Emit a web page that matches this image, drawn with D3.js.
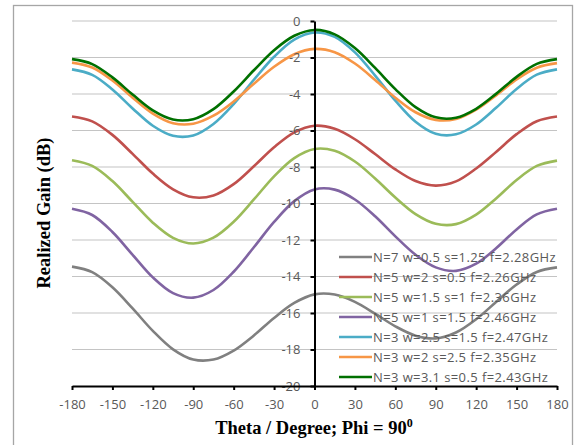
<!DOCTYPE html>
<html>
<head>
<meta charset="utf-8">
<script src="https://cdn.jsdelivr.net/npm/d3@7"></script>
<style>
  html, body { margin: 0; padding: 0; background: #fff; }
  svg { display: block; }
</style>
</head>
<body>
<svg id="chart" width="584" height="445"></svg>
<script>
// ---- data ----
const theta = [-180,-165,-150,-135,-120,-105,-90,-75,-60,-45,-30,-15,0,15,30,45,60,75,90,105,120,135,150,165,180];
const seriesNames = [
  "N=7 w=0.5 s=1.25 f=2.28GHz",
  "N=5 w=2 s=0.5 f=2.26GHz",
  "N=5 w=1.5 s=1 f=2.36GHz",
  "N=5 w=1 s=1.5 f=2.46GHz",
  "N=3 w=2.5 s=1.5 f=2.47GHz",
  "N=3 w=2 s=2.5 f=2.35GHz",
  "N=3 w=3.1 s=0.5 f=2.43GHz"
];
const gainN7  = [-13.46,-13.76,-14.59,-15.75,-16.98,-17.99,-18.55,-18.55,-18.06,-17.23,-16.27,-15.45,-14.98,-14.99,-15.39,-16.04,-16.73,-17.24,-17.39,-17.07,-16.34,-15.38,-14.44,-13.75,-13.50];
const gainN5a = [-5.23,-5.50,-6.24,-7.28,-8.36,-9.22,-9.66,-9.56,-8.94,-7.96,-6.92,-6.10,-5.74,-5.91,-6.48,-7.29,-8.13,-8.77,-9.02,-8.79,-8.08,-7.16,-6.20,-5.49,-5.23];
const gainN5b = [-7.63,-7.94,-8.77,-9.91,-11.05,-11.88,-12.19,-11.87,-11.00,-9.78,-8.51,-7.51,-7.01,-7.11,-7.70,-8.63,-9.67,-10.58,-11.11,-11.13,-10.61,-9.71,-8.71,-7.94,-7.65];
const gainN5c = [-10.29,-10.63,-11.56,-12.81,-14.05,-14.91,-15.16,-14.74,-13.74,-12.40,-11.01,-9.87,-9.23,-9.24,-9.78,-10.70,-11.80,-12.81,-13.50,-13.69,-13.30,-12.44,-11.42,-10.60,-10.29];
const gainN3a = [-2.65,-2.95,-3.75,-4.79,-5.74,-6.29,-6.27,-5.64,-4.55,-3.22,-1.96,-1.02,-0.63,-0.87,-1.72,-2.99,-4.36,-5.52,-6.18,-6.21,-5.67,-4.74,-3.72,-2.94,-2.65];
const gainN3b = [-2.28,-2.55,-3.26,-4.20,-5.07,-5.60,-5.63,-5.19,-4.41,-3.44,-2.51,-1.82,-1.53,-1.71,-2.33,-3.23,-4.20,-5.00,-5.42,-5.37,-4.86,-4.06,-3.20,-2.56,-2.31];
const gainN3c = [-2.09,-2.36,-3.09,-4.03,-4.90,-5.40,-5.38,-4.83,-3.86,-2.70,-1.60,-0.81,-0.49,-0.73,-1.48,-2.57,-3.73,-4.72,-5.28,-5.30,-4.81,-3.98,-3.06,-2.35,-2.09];
const xTicks = [-180,-150,-120,-90,-60,-30,0,30,60,90,120,150,180];
const yTicks = [0,-2,-4,-6,-8,-10,-12,-14,-16,-18,-20];

const allSeries = [gainN7, gainN5a, gainN5b, gainN5c, gainN3a, gainN3b, gainN3c];
const colors = ["#808080","#c0504d","#9bbb59","#8064a2","#4bacc6","#f79646","#007000"];

// ---- drawing ----
const svg = d3.select("#chart");
const font = "'Open Sans', 'Liberation Sans', sans-serif";
const serif = "'Liberation Serif', 'Times New Roman', serif";

// outer frame
svg.append("rect")
  .attr("x", 13.5).attr("y", 5.5).attr("width", 559).attr("height", 460)
  .attr("fill", "none").attr("stroke", "#a6a6a6").attr("stroke-width", 1.3);

const x = d3.scaleLinear().domain([-180, 180]).range([72, 557]);
const y = d3.scaleLinear().domain([-20, 0]).range([386, 21]);

// gridlines
svg.append("g").selectAll("line")
  .data(yTicks.filter(d => d > -20))
  .join("line")
  .attr("x1", x(-180)).attr("x2", x(180))
  .attr("y1", d => y(d)).attr("y2", d => y(d))
  .attr("stroke", "#c4c4c4").attr("stroke-width", 1.2);

// series lines
const line = d3.line()
  .x((d, i) => x(theta[i]))
  .y(d => y(d))
  .curve(d3.curveCatmullRom.alpha(0.5));

svg.append("g").selectAll("path")
  .data(allSeries)
  .join("path")
  .attr("d", d => line(d))
  .attr("fill", "none")
  .attr("stroke", (d, i) => colors[i])
  .attr("stroke-width", 2.6)
  .attr("stroke-linejoin", "round");

// y axis at theta = 0
const yAxis = d3.axisLeft(y).tickValues(yTicks).tickFormat(d => String(d))
  .tickSize(4).tickSizeOuter(0).tickPadding(10);
const gy = svg.append("g").attr("transform", `translate(${x(0)},0)`).call(yAxis);
gy.select(".domain").attr("stroke", "#000").attr("stroke-width", 2);
gy.selectAll(".tick line").attr("stroke", "#000").attr("stroke-width", 2);
gy.selectAll(".tick text").attr("fill", "#595959").style("font-family", font).style("font-size", "13px");

// x axis at bottom
const xAxis = d3.axisBottom(x).tickValues(xTicks).tickFormat(d => String(d))
  .tickSize(4).tickSizeOuter(0).tickPadding(10);
const gx = svg.append("g").attr("transform", `translate(0,${y(-20)})`).call(xAxis);
gx.select(".domain").attr("stroke", "#000").attr("stroke-width", 2);
gx.selectAll(".tick line").attr("stroke", "#000").attr("stroke-width", 2);
gx.selectAll(".tick text").attr("fill", "#595959").style("font-family", font).style("font-size", "13px");

// legend
const lg = svg.append("g");
seriesNames.forEach((name, i) => {
  const cy = 257 + i * 20;
  lg.append("line").attr("x1", 339).attr("x2", 372).attr("y1", cy).attr("y2", cy)
    .attr("stroke", colors[i]).attr("stroke-width", 2.6);
  lg.append("text").attr("x", 373).attr("y", cy).attr("dy", "0.35em")
    .attr("fill", "#595959").style("font-family", font).style("font-size", "13px")
    .style("letter-spacing", "0.4px")
    .text(name);
});

// axis titles
const tx = svg.append("text").attr("x", 314).attr("y", 434)
  .attr("text-anchor", "middle")
  .style("font-family", serif)
  .style("font-weight", "bold").style("font-size", "18.5px").attr("fill", "#000");
tx.append("tspan").text("Theta / Degree; Phi = 90");
tx.append("tspan").attr("dy", -7).style("font-size", "12px").text("0");

svg.append("text")
  .attr("transform", "translate(50,213) rotate(-90)")
  .attr("text-anchor", "middle")
  .style("font-family", serif)
  .style("font-weight", "bold").style("font-size", "18.5px").attr("fill", "#000")
  .text("Realized Gain (dB)");
</script>
</body>
</html>
